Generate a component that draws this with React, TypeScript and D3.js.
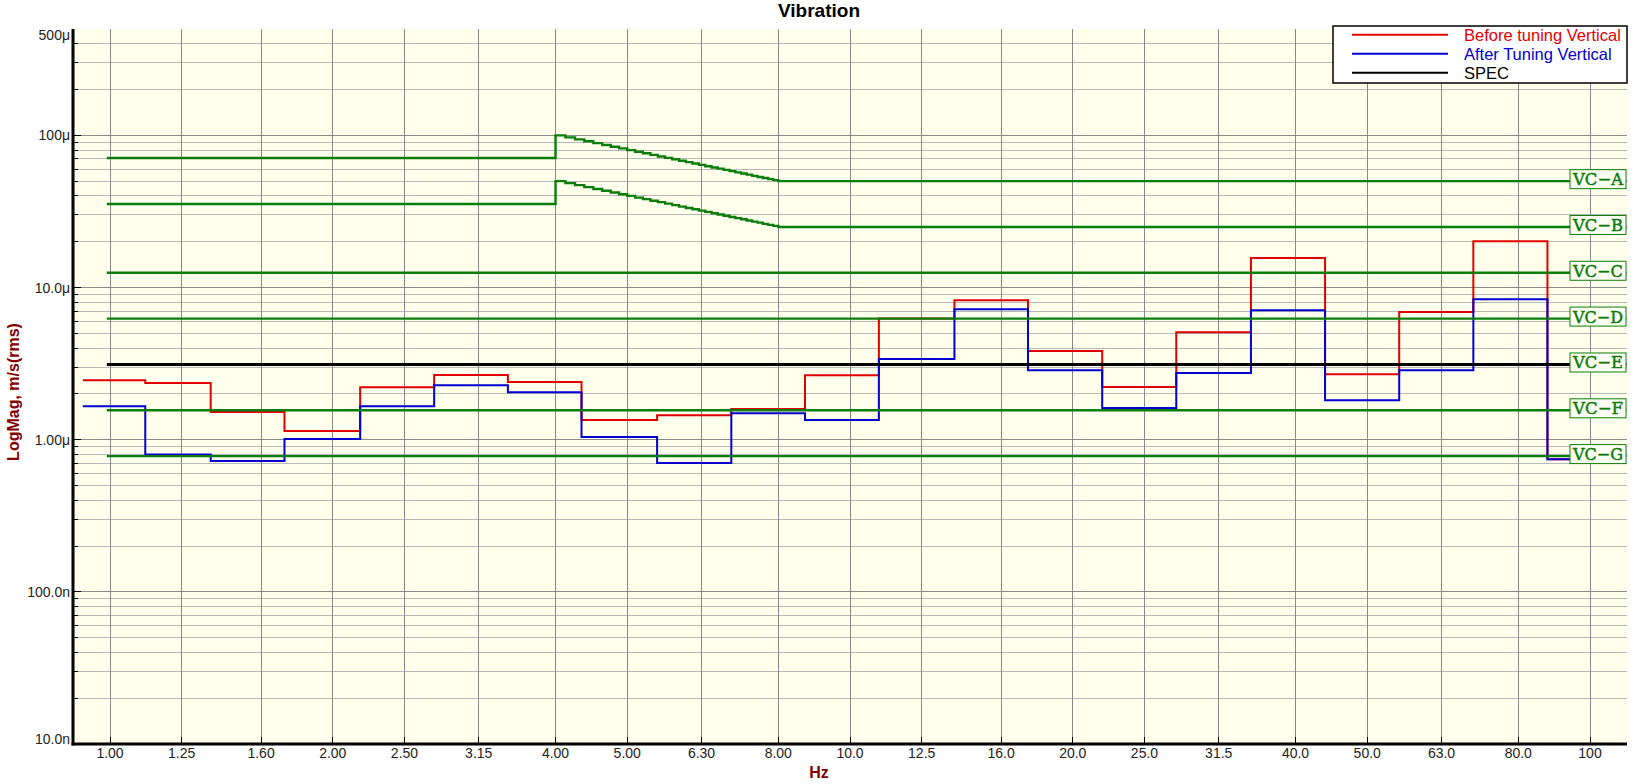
import * as d3 from "d3";

// third-octave bands (nominal labels) and measured band levels, µm/s rms
const bandHz = [1, 1.25, 1.6, 2, 2.5, 3.15, 4, 5, 6.3, 8, 10, 12.5, 16, 20, 25, 31.5, 40, 50, 63, 80, 100];
const bandLabels = ["1.00", "1.25", "1.60", "2.00", "2.50", "3.15", "4.00", "5.00", "6.30", "8.00", "10.0", "12.5", "16.0", "20.0", "25.0", "31.5", "40.0", "50.0", "63.0", "80.0", "100"];
// where the measured traces step (Hz), one more than the bands
const stepEdgesHz = [0.919, 1.116, 1.368, 1.721, 2.178, 2.742, 3.449, 4.337, 5.487, 6.912, 8.693, 10.94, 13.84, 17.4, 21.92, 27.6, 34.82, 43.85, 55.23, 69.56, 87.6, 110];
const beforeUm = [2.455, 2.357, 1.519, 1.14, 2.208, 2.661, 2.393, 1.346, 1.445, 1.59, 2.65, 6.25, 8.25, 3.83, 2.22, 5.08, 15.66, 2.69, 6.91, 20.17, 0.745];
const afterUm = [1.656, 0.8, 0.723, 1.009, 1.656, 2.275, 2.047, 1.04, 0.702, 1.489, 1.346, 3.39, 7.2, 2.857, 1.614, 2.745, 7.09, 1.815, 2.857, 8.38, 0.745];

// VC criterion curves; A and B have the 4-8 Hz staircase
const vcStartHz = 0.99;
const vcEndHz = 112;
const stairHz = [4, 4.125, 4.25, 4.375, 4.5, 4.625, 4.75, 4.875, 5, 5.125, 5.25, 5.375, 5.5, 5.625, 5.75, 5.875, 6, 6.125, 6.25, 6.375, 6.5, 6.625, 6.75, 6.875, 7, 7.125, 7.25, 7.375, 7.5, 7.625, 7.75, 7.875, 8];
const vcAStair = [100, 97, 94.1, 91.4, 88.9, 86.5, 84.2, 82.1, 80, 78, 76.2, 74.4, 72.7, 71.1, 69.6, 68.1, 66.7, 65.3, 64, 62.7, 61.5, 60.4, 59.3, 58.2, 57.1, 56.1, 55.2, 54.2, 53.3, 52.5, 51.6, 50.8, 50];
const vcBStair = [50, 48.5, 47.1, 45.7, 44.4, 43.2, 42.1, 41, 40, 39, 38.1, 37.2, 36.4, 35.6, 34.8, 34, 33.3, 32.7, 32, 31.4, 30.8, 30.2, 29.6, 29.1, 28.6, 28.1, 27.6, 27.1, 26.7, 26.2, 25.8, 25.4, 25];
const vcLowUm = [71, 35.4]; // A, B below 4 Hz
const vcNames = ["VC−A", "VC−B", "VC−C", "VC−D", "VC−E", "VC−F", "VC−G"];
const vcFlatUm = [50, 25, 12.5, 6.25, 3.12, 1.56, 0.78];

const yTickVals = [1e-8, 1e-7, 1e-6, 1e-5, 1e-4, 5e-4];
const yTickLabels = ["10.0n", "100.0n", "1.00μ", "10.0μ", "100μ", "500μ"];

const legendNames = ["Before tuning Vertical", "After Tuning Vertical", "SPEC"];
const legendColors = ["#e00000", "#0000d0", "#000000"];

const W = 1637;
const H = 784;
const plot = { left: 73, right: 1627, top: 29, bottom: 744 };
const GREEN = "#0a7d0a";
const FONT = "'Liberation Sans', Arial, sans-serif";

export default function App() {
  const x = d3.scaleLog().domain([10 ** -0.05, 10 ** 2.05]).range([plot.left, plot.right]);
  const y = d3.scaleLog().domain([1e-8, 5e-4]).range([plot.bottom, plot.top]);
  const um = (v: number) => v * 1e-6;

  // horizontal grid: 1..9 per decade
  const hAll: { v: number; major: boolean }[] = [];
  for (let e = -8; e <= -4; e++) {
    for (let m = 1; m <= 9; m++) {
      const v = m * 10 ** e;
      if (v >= 5e-4 * 0.999) continue;
      hAll.push({ v, major: m === 1 });
    }
  }

  const stepLine = (vals: number[]) => {
    const pts: [number, number][] = [];
    vals.forEach((v, i) => {
      pts.push([x(stepEdgesHz[i]), y(um(v))]);
      pts.push([x(stepEdgesHz[i + 1]), y(um(v))]);
    });
    return d3.line()(pts) ?? "";
  };

  const vcPath = (idx: number) => {
    const pts: [number, number][] = [];
    if (idx < 2) {
      const stair = idx === 0 ? vcAStair : vcBStair;
      pts.push([x(vcStartHz), y(um(vcLowUm[idx]))]);
      pts.push([x(stairHz[0]), y(um(vcLowUm[idx]))]);
      stair.forEach((v, i) => {
        pts.push([x(stairHz[i]), y(um(v))]);
        const next = i + 1 < stairHz.length ? stairHz[i + 1] : vcEndHz;
        pts.push([x(next), y(um(v))]);
      });
    } else {
      pts.push([x(vcStartHz), y(um(vcFlatUm[idx]))]);
      pts.push([x(vcEndHz), y(um(vcFlatUm[idx]))]);
    }
    return d3.line()(pts) ?? "";
  };

  const labelY = (v: number) => Math.min(plot.bottom - 5, Math.max(plot.top + 6, y(v)));

  return (
    <div style={{ position: "fixed", left: 0, top: 0, background: "#fff" }}>
      <svg width={W} height={H} style={{ display: "block" }} fontFamily={FONT}>
        <rect x={0} y={0} width={W} height={H} fill="#fff" />
        <rect x={plot.left} y={plot.top} width={plot.right - plot.left} height={plot.bottom - plot.top} fill="#ffffec" />

        {hAll.map((g, i) => (
          <line key={`h${i}`} x1={plot.left} x2={plot.right} y1={y(g.v)} y2={y(g.v)}
            stroke={g.major ? "#8a8a8a" : "#b8b8b8"} strokeWidth={1} shapeRendering="crispEdges" />
        ))}
        {bandHz.map((f) => (
          <line key={`v${f}`} x1={x(f)} x2={x(f)} y1={plot.top} y2={plot.bottom}
            stroke="#888" strokeWidth={1} shapeRendering="crispEdges" />
        ))}

        {/* measured traces */}
        <path d={stepLine(beforeUm)} fill="none" stroke="#e00000" strokeWidth={2} />
        <path d={stepLine(afterUm)} fill="none" stroke="#0000d0" strokeWidth={2} />

        {/* criterion lines */}
        {vcNames.map((n, i) => (
          <path key={n} d={vcPath(i)} fill="none" stroke={i === 4 ? "#000" : GREEN} strokeWidth={i === 4 ? 3 : 2.4} />
        ))}
        {vcNames.map((n, i) => {
          const cy = y(um(vcFlatUm[i])) - 2;
          return (
            <g key={`l${n}`}>
              <rect x={1570} y={cy - 9.5} width={56} height={19} fill="#fffff6" stroke={GREEN} strokeWidth={1} />
              <text x={1598} y={cy + 6} textAnchor="middle" fontFamily="'DejaVu Serif', 'Liberation Serif', serif"
                fontSize={17} fill={GREEN} stroke={GREEN} strokeWidth={0.5}
                textLength={50} lengthAdjust="spacingAndGlyphs">{n}</text>
            </g>
          );
        })}

        {/* axes */}
        {hAll.map((g, i) => (
          <line key={`t${i}`} x1={plot.left} x2={plot.left + (g.major ? 8 : 5)} y1={y(g.v)} y2={y(g.v)}
            stroke="#000" strokeWidth={1} shapeRendering="crispEdges" />
        ))}
        {bandHz.map((f) => (
          <line key={`bt${f}`} x1={x(f)} x2={x(f)} y1={plot.bottom} y2={plot.bottom - 7}
            stroke="#000" strokeWidth={1} shapeRendering="crispEdges" />
        ))}
        <line x1={plot.left} x2={plot.left} y1={plot.top} y2={plot.bottom + 1.5} stroke="#000" strokeWidth={3} />
        <line x1={plot.left - 1.5} x2={plot.right} y1={plot.bottom} y2={plot.bottom} stroke="#000" strokeWidth={3} />

        {yTickVals.map((v, i) => (
          <text key={`yl${v}`} x={70} y={labelY(v) + 5} textAnchor="end" fontSize={14} fill="#222">{yTickLabels[i]}</text>
        ))}
        {bandHz.map((f, i) => (
          <text key={`xl${f}`} x={x(f)} y={758} textAnchor="middle" fontSize={14} fill="#222">{bandLabels[i]}</text>
        ))}

        <text x={819} y={17} textAnchor="middle" fontSize={19} fontWeight="bold" fill="#000">Vibration</text>
        <text x={819} y={778} textAnchor="middle" fontSize={16} fontWeight="bold" fill="#800000">Hz</text>
        <text transform={`translate(19,392) rotate(-90)`} textAnchor="middle" fontSize={16} fontWeight="bold" fill="#800000">LogMag, m/s(rms)</text>

        {/* legend */}
        <rect x={1333} y={26} width={294} height={57} fill="#fff" stroke="#000" strokeWidth={1.5} />
        {legendNames.map((n, i) => (
          <g key={n}>
            <line x1={1352} x2={1448} y1={34.7 + i * 19} y2={34.7 + i * 19} stroke={legendColors[i]} strokeWidth={2} />
            <text x={1464} y={34.7 + i * 19 + 6} fontSize={16.5} fill={legendColors[i]}>{n}</text>
          </g>
        ))}
      </svg>
    </div>
  );
}
